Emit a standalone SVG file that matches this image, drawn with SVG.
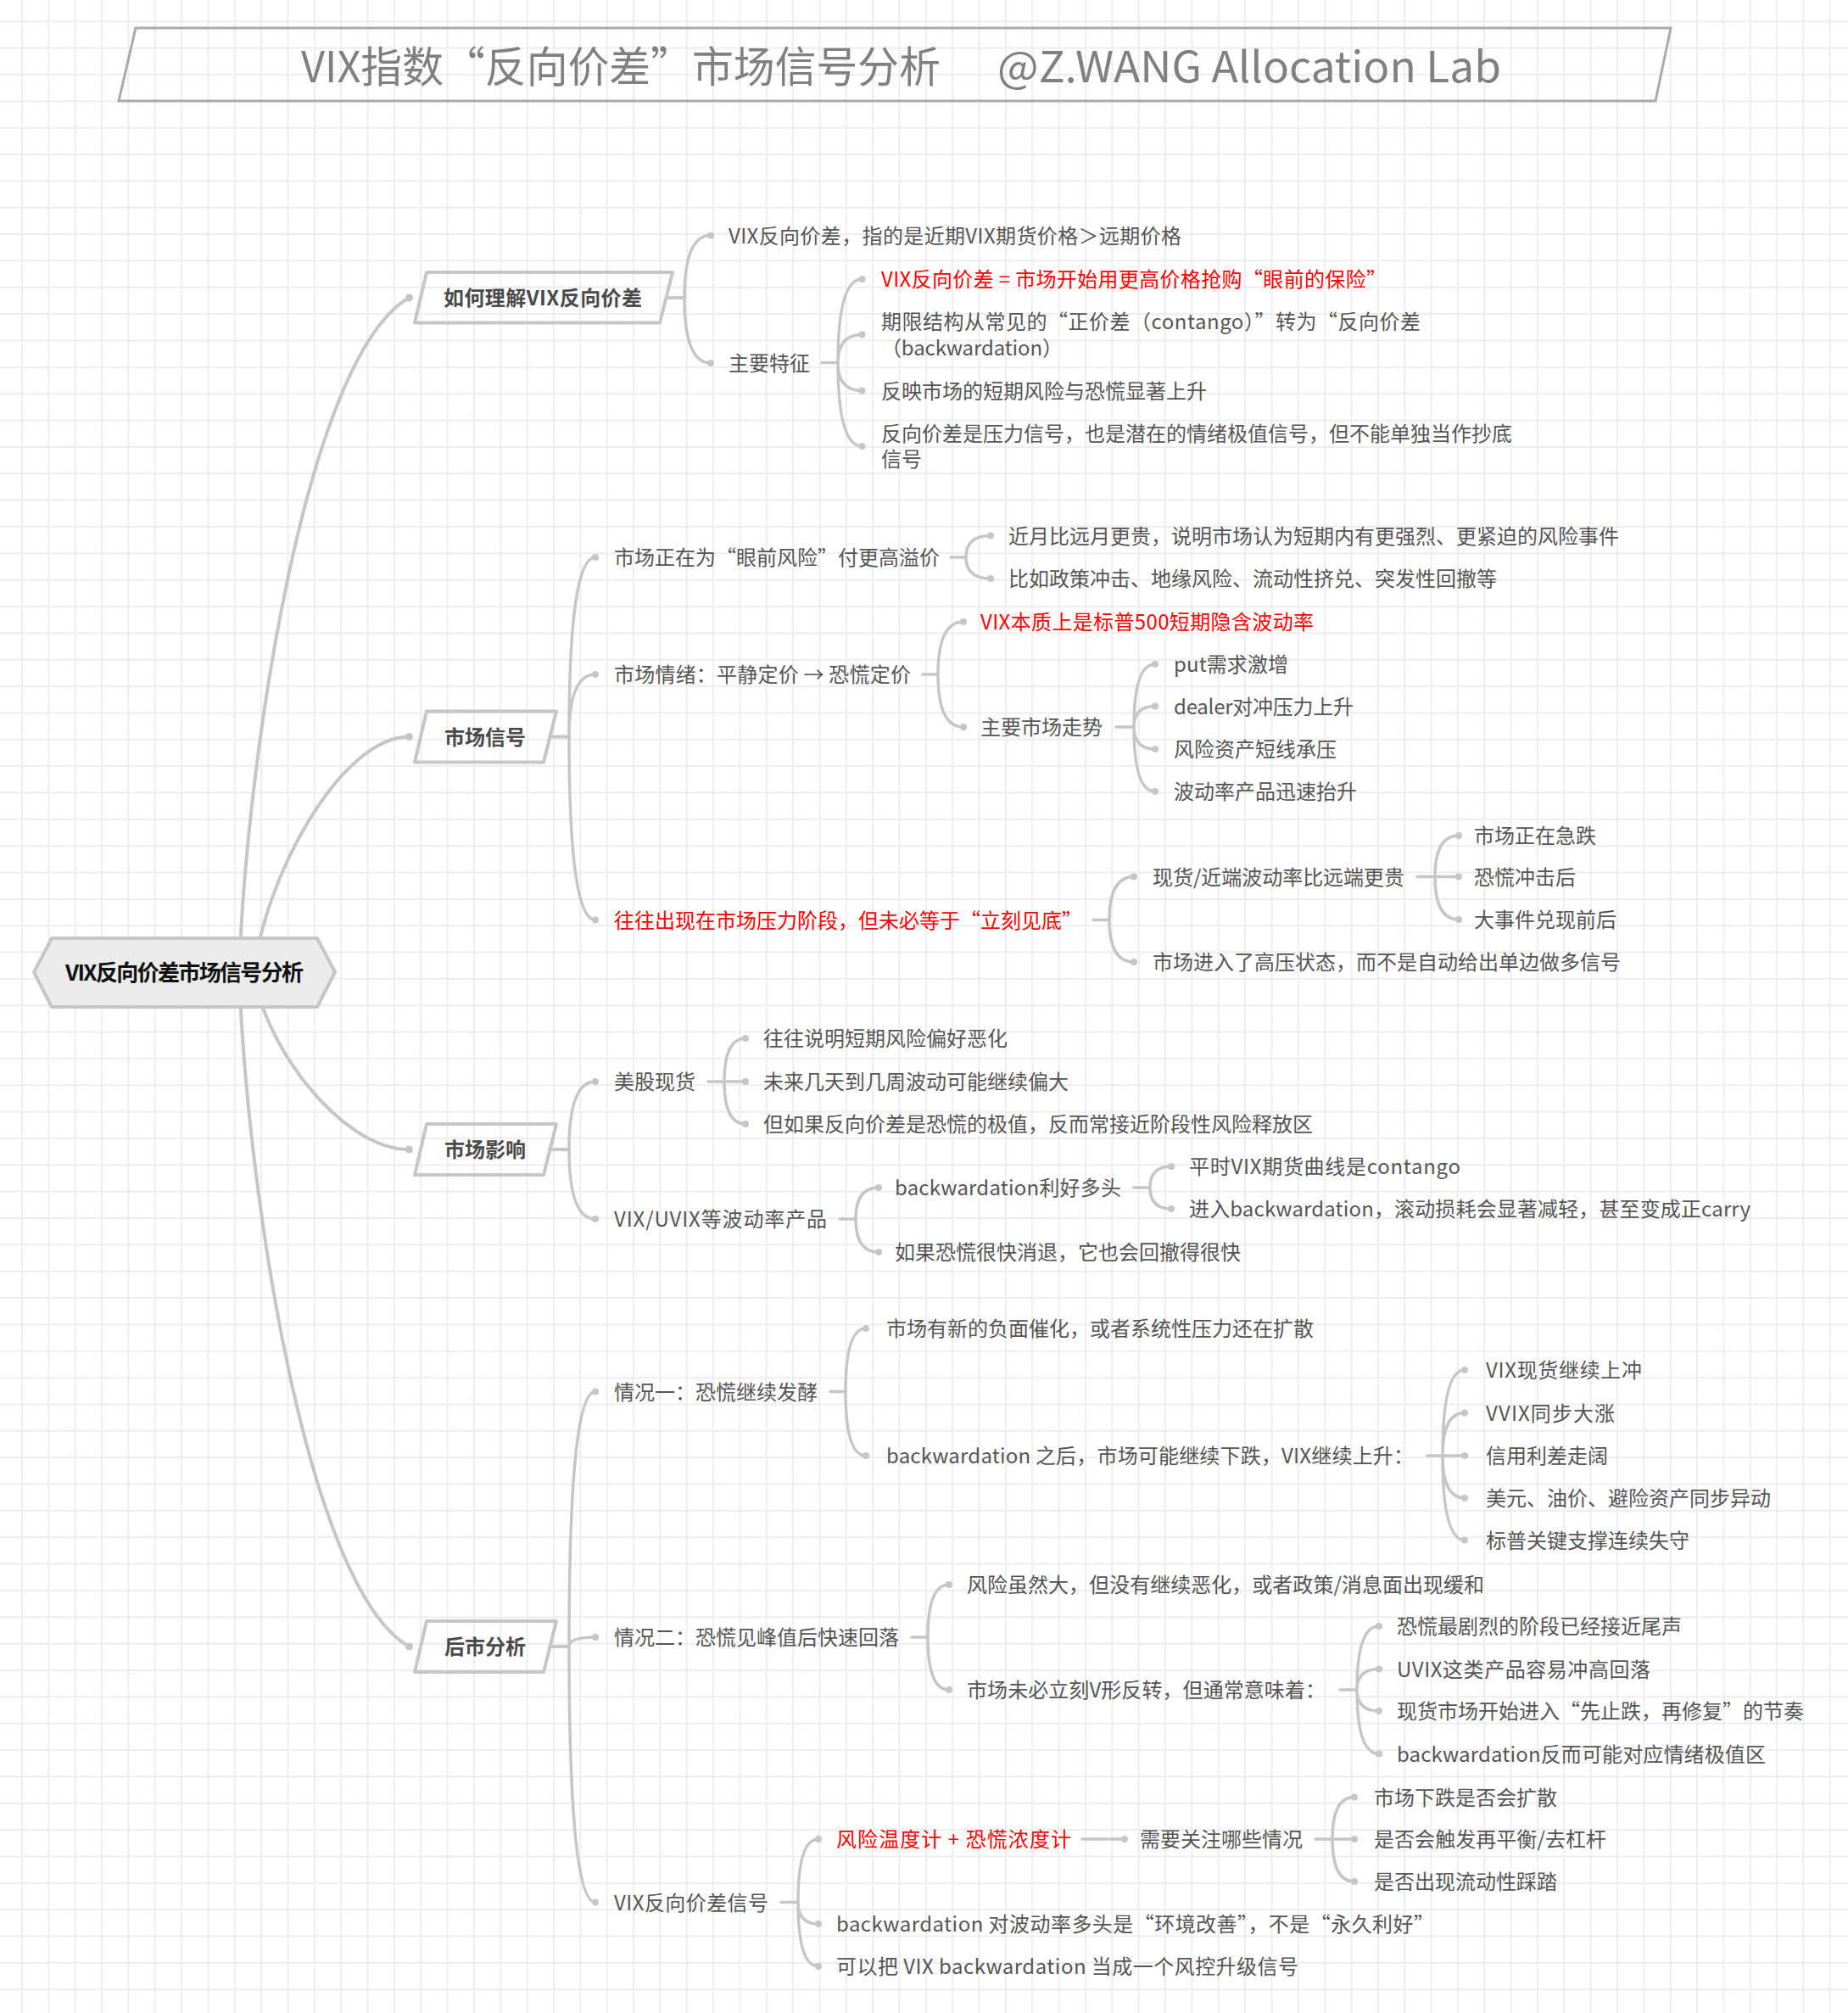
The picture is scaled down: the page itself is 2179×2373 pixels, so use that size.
<svg xmlns="http://www.w3.org/2000/svg" width="2179" height="2373" viewBox="0 0 2179 2373">
<defs>
<pattern id="grid" x="10.3" y="9.6" width="31.35" height="31.35" patternUnits="userSpaceOnUse">
<path d="M15.675 0V31.35M0 15.675H31.35" stroke="#ededed" stroke-width="2" fill="none"/>
</pattern>
<style>
.t{font-family:"Noto Sans CJK SC","Noto Sans",sans-serif;font-size:24px;fill:#555555;}
.r{fill:#ff0000;}
.b1{font-weight:700;fill:#4a4a4a;}
.ln{fill:none;stroke:#c6c6c6;stroke-width:3.5;stroke-linecap:round;}
.ln0{stroke-width:4;}
.dot{fill:#c6c6c6;}
.box{fill:none;stroke:#c6c6c6;stroke-width:4;stroke-linejoin:round;}
</style>
</defs>
<rect width="2179" height="2373" fill="#ffffff"/>
<rect width="2179" height="2373" fill="url(#grid)"/>

<g id="title">
<path d="M160 33 L1970 33 L1952 119 L140 119 Z" fill="none" stroke="#aaaaaa" stroke-width="3"/>
<text class="t" x="355" y="97" style="font-size:50px;fill:#808080" textLength="754" lengthAdjust="spacingAndGlyphs">VIX指数“反向价差”市场信号分析</text>
<text class="t" x="1176" y="97" style="font-size:50px;fill:#808080" textLength="594" lengthAdjust="spacingAndGlyphs">@Z.WANG Allocation Lab</text>
</g>

<g id="connectors">
<path class="ln ln0" d="M282 1146 C290 900 360 420 482.5 351"/>
<path class="ln ln0" d="M300 1146 C310 1040 400 868.5 482.5 868.5"/>
<path class="ln ln0" d="M300 1146 C308 1226 400 1355 482.5 1355"/>
<path class="ln ln0" d="M282 1146 C290 1392 360 1872 482.5 1941"/>
<circle class="dot" cx="482.5" cy="351" r="4.5"/>
<circle class="dot" cx="482.5" cy="868.5" r="4.5"/>
<circle class="dot" cx="482.5" cy="1355" r="4.5"/>
<circle class="dot" cx="482.5" cy="1941" r="4.5"/>
<path class="ln ln0" d="M786 351H807M648 868.5H671M648 1355H671M648 1941H671"/>

<path class="ln" d="M807 351Q807 277.5 838 277.5M807 351Q807 428 838 428"/>
<path class="ln" d="M969 427.5H988M988 427.5Q988 329 1016.5 329M988 427.5Q988 394.5 1016.5 394.5M988 427.5Q988 460.5 1016.5 460.5M988 427.5Q988 526 1016.5 526"/>

<path class="ln" d="M671 868.5Q671 657 702 657M671 868.5Q671 795 702 795M671 868.5Q671 1084.5 702 1084.5"/>
<path class="ln" d="M1121 657H1139M1139 657Q1139 631.5 1168 631.5M1139 657Q1139 682 1168 682"/>
<path class="ln" d="M1088 795H1106M1106 795Q1106 733 1136 733M1106 795Q1106 857 1136 857"/>
<path class="ln" d="M1316 857H1337M1337 857Q1337 783 1362 783M1337 857Q1337 832.5 1362 832.5M1337 857Q1337 883 1362 883M1337 857Q1337 933 1362 933"/>
<path class="ln" d="M1289 1084.5H1308M1308 1084.5Q1308 1033.5 1337 1033.5M1308 1084.5Q1308 1134 1337 1134"/>
<path class="ln" d="M1671 1033.5H1692M1692 1033.5Q1692 985 1720 985M1692 1033.5H1720M1692 1033.5Q1692 1084 1720 1084"/>

<path class="ln" d="M671 1355Q671 1275 702 1275M671 1355Q671 1437 702 1437"/>
<path class="ln" d="M835 1275H854M854 1275Q854 1224 879 1224M854 1275H879M854 1275Q854 1325 879 1325"/>
<path class="ln" d="M990 1437H1009M1009 1437Q1009 1400 1036 1400M1009 1437Q1009 1476 1036 1476"/>
<path class="ln" d="M1337 1400H1356M1356 1400Q1356 1375 1381 1375M1356 1400Q1356 1425 1381 1425"/>

<path class="ln" d="M671 1941Q671 1640.5 702 1640.5M671 1941Q671 1930 702 1930M671 1941Q671 2242.5 702 2242.5"/>
<path class="ln" d="M979 1640.5H997M997 1640.5Q997 1566 1021 1566M997 1640.5Q997 1716 1021 1716"/>
<path class="ln" d="M1683 1716H1701M1701 1716Q1701 1615 1727 1615M1701 1716Q1701 1665.5 1727 1665.5M1701 1716H1727M1701 1716Q1701 1766 1727 1766M1701 1716Q1701 1815.5 1727 1815.5"/>
<path class="ln" d="M1075 1930H1094M1094 1930Q1094 1868 1119 1868M1094 1930Q1094 1992 1119 1992"/>
<path class="ln" d="M1580 1992H1600M1600 1992Q1600 1917 1626 1917M1600 1992Q1600 1967.5 1626 1967.5M1600 1992Q1600 2017 1626 2017M1600 1992Q1600 2067.5 1626 2067.5"/>
<path class="ln" d="M921 2242.5H941M941 2242.5Q941 2168 965 2168M941 2242.5Q941 2268 965 2268M941 2242.5Q941 2318 965 2318"/>
<path class="ln" d="M1276 2168H1326"/>
<path class="ln" d="M1551 2168H1571M1571 2168Q1571 2118.5 1597 2118.5M1571 2168H1597M1571 2168Q1571 2218 1597 2218"/>

<g class="dot">
<circle cx="838" cy="277.5" r="4"/><circle cx="838" cy="428" r="4"/>
<circle cx="1016.5" cy="329" r="4"/><circle cx="1016.5" cy="394.5" r="4"/><circle cx="1016.5" cy="460.5" r="4"/><circle cx="1016.5" cy="526" r="4"/>
<circle cx="702" cy="657" r="4"/><circle cx="702" cy="795" r="4"/><circle cx="702" cy="1084.5" r="4"/>
<circle cx="1168" cy="631.5" r="4"/><circle cx="1168" cy="682" r="4"/>
<circle cx="1136" cy="733" r="4"/><circle cx="1136" cy="857" r="4"/>
<circle cx="1362" cy="783" r="4"/><circle cx="1362" cy="832.5" r="4"/><circle cx="1362" cy="883" r="4"/><circle cx="1362" cy="933" r="4"/>
<circle cx="1337" cy="1033.5" r="4"/><circle cx="1337" cy="1134" r="4"/>
<circle cx="1720" cy="985" r="4"/><circle cx="1720" cy="1033.5" r="4"/><circle cx="1720" cy="1084" r="4"/>
<circle cx="702" cy="1275" r="4"/><circle cx="702" cy="1437" r="4"/>
<circle cx="879" cy="1224" r="4"/><circle cx="879" cy="1275" r="4"/><circle cx="879" cy="1325" r="4"/>
<circle cx="1036" cy="1400" r="4"/><circle cx="1036" cy="1476" r="4"/>
<circle cx="1381" cy="1375" r="4"/><circle cx="1381" cy="1425" r="4"/>
<circle cx="702" cy="1640.5" r="4"/><circle cx="702" cy="1930" r="4"/><circle cx="702" cy="2242.5" r="4"/>
<circle cx="1021" cy="1566" r="4"/><circle cx="1021" cy="1716" r="4"/>
<circle cx="1727" cy="1615" r="4"/><circle cx="1727" cy="1665.5" r="4"/><circle cx="1727" cy="1716" r="4"/><circle cx="1727" cy="1766" r="4"/><circle cx="1727" cy="1815.5" r="4"/>
<circle cx="1119" cy="1868" r="4"/><circle cx="1119" cy="1992" r="4"/>
<circle cx="1626" cy="1917" r="4"/><circle cx="1626" cy="1967.5" r="4"/><circle cx="1626" cy="2017" r="4"/><circle cx="1626" cy="2067.5" r="4"/>
<circle cx="965" cy="2168" r="4"/><circle cx="965" cy="2268" r="4"/><circle cx="965" cy="2318" r="4"/>
<circle cx="1326" cy="2168" r="4"/>
<circle cx="1597" cy="2118.5" r="4"/><circle cx="1597" cy="2168" r="4"/><circle cx="1597" cy="2218" r="4"/>
</g>
</g>

<g id="root">
<polygon points="40,1146 61,1106 374,1106 395,1146 374,1187 61,1187" fill="#ebebeb" stroke="#c6c6c6" stroke-width="4" stroke-linejoin="round"/>
<text class="t" x="217.5" y="1155.5" text-anchor="middle" style="font-size:26px;font-weight:700;fill:#111111" textLength="281" lengthAdjust="spacing">VIX反向价差市场信号分析</text>
</g>

<g id="l1-understand">
<polygon class="box" points="503,321 793,321 778,380.5 489,380.5"/>
<text class="t b1" x="640" y="359.5" text-anchor="middle" textLength="234" lengthAdjust="spacing">如何理解VIX反向价差</text>
</g>
<g id="l1-signal">
<polygon class="box" points="503,838.5 656,838.5 641,898.5 489,898.5"/>
<text class="t b1" x="572" y="877.5" text-anchor="middle">市场信号</text>
</g>
<g id="l1-impact">
<polygon class="box" points="503,1325 656,1325 641,1385 489,1385"/>
<text class="t b1" x="572" y="1364" text-anchor="middle">市场影响</text>
</g>
<g id="l1-outlook">
<polygon class="box" points="503,1911 656,1911 641,1971 489,1971"/>
<text class="t b1" x="572" y="1950" text-anchor="middle">后市分析</text>
</g>

<g id="n1a"><text class="t" x="859" y="286.5" textLength="534" lengthAdjust="spacing">VIX反向价差，指的是近期VIX期货价格＞远期价格</text></g>
<g id="n1b"><text class="t" x="859" y="437" textLength="96" lengthAdjust="spacing">主要特征</text></g>
<g id="n1b1"><text class="t r" x="1039" y="338" textLength="596" lengthAdjust="spacing">VIX反向价差 = 市场开始用更高价格抢购“眼前的保险”</text></g>
<g id="n1b2"><text class="t" x="1039" y="388"><tspan x="1039" y="388" textLength="636" lengthAdjust="spacing">期限结构从常见的“正价差（contango）”转为“反向价差</tspan><tspan x="1039" y="418.5" textLength="214" lengthAdjust="spacing">（backwardation）</tspan></text></g>
<g id="n1b3"><text class="t" x="1039" y="469.5" textLength="384" lengthAdjust="spacing">反映市场的短期风险与恐慌显著上升</text></g>
<g id="n1b4"><text class="t" x="1039" y="520"><tspan x="1039" y="520" textLength="744" lengthAdjust="spacing">反向价差是压力信号，也是潜在的情绪极值信号，但不能单独当作抄底</tspan><tspan x="1039" y="550">信号</tspan></text></g>

<g id="n2a"><text class="t" x="724" y="666" textLength="384" lengthAdjust="spacing">市场正在为“眼前风险”付更高溢价</text></g>
<g id="n2a1"><text class="t" x="1189" y="640.5" textLength="720" lengthAdjust="spacing">近月比远月更贵，说明市场认为短期内有更强烈、更紧迫的风险事件</text></g>
<g id="n2a2"><text class="t" x="1189" y="691" textLength="576" lengthAdjust="spacing">比如政策冲击、地缘风险、流动性挤兑、突发性回撤等</text></g>
<g id="n2b"><text class="t" x="724" y="804" textLength="350" lengthAdjust="spacing">市场情绪：平静定价 → 恐慌定价</text></g>
<g id="n2b1"><text class="t r" x="1156" y="742" textLength="393" lengthAdjust="spacing">VIX本质上是标普500短期隐含波动率</text></g>
<g id="n2b2"><text class="t" x="1156" y="866" textLength="144" lengthAdjust="spacing">主要市场走势</text></g>
<g id="n2b2a"><text class="t" x="1384" y="792" textLength="135" lengthAdjust="spacing">put需求激增</text></g>
<g id="n2b2b"><text class="t" x="1384" y="841.5" textLength="212" lengthAdjust="spacing">dealer对冲压力上升</text></g>
<g id="n2b2c"><text class="t" x="1384" y="892" textLength="192" lengthAdjust="spacing">风险资产短线承压</text></g>
<g id="n2b2d"><text class="t" x="1384" y="942" textLength="216" lengthAdjust="spacing">波动率产品迅速抬升</text></g>
<g id="n2c"><text class="t r" x="724" y="1093.5" textLength="552" lengthAdjust="spacing">往往出现在市场压力阶段，但未必等于“立刻见底”</text></g>
<g id="n2c1"><text class="t" x="1359" y="1042.5" textLength="297" lengthAdjust="spacing">现货/近端波动率比远端更贵</text></g>
<g id="n2c1a"><text class="t" x="1738" y="994" textLength="144" lengthAdjust="spacing">市场正在急跌</text></g>
<g id="n2c1b"><text class="t" x="1738" y="1042.5" textLength="120" lengthAdjust="spacing">恐慌冲击后</text></g>
<g id="n2c1c"><text class="t" x="1738" y="1093" textLength="168" lengthAdjust="spacing">大事件兑现前后</text></g>
<g id="n2c2"><text class="t" x="1359" y="1143" textLength="552" lengthAdjust="spacing">市场进入了高压状态，而不是自动给出单边做多信号</text></g>

<g id="n3a"><text class="t" x="724" y="1284" textLength="96" lengthAdjust="spacing">美股现货</text></g>
<g id="n3a1"><text class="t" x="900" y="1233" textLength="288" lengthAdjust="spacing">往往说明短期风险偏好恶化</text></g>
<g id="n3a2"><text class="t" x="900" y="1284" textLength="360" lengthAdjust="spacing">未来几天到几周波动可能继续偏大</text></g>
<g id="n3a3"><text class="t" x="900" y="1334" textLength="648" lengthAdjust="spacing">但如果反向价差是恐慌的极值，反而常接近阶段性风险释放区</text></g>
<g id="n3b"><text class="t" x="724" y="1446" textLength="251" lengthAdjust="spacing">VIX/UVIX等波动率产品</text></g>
<g id="n3b1"><text class="t" x="1055" y="1409" textLength="267" lengthAdjust="spacing">backwardation利好多头</text></g>
<g id="n3b1a"><text class="t" x="1402" y="1384" textLength="320" lengthAdjust="spacing">平时VIX期货曲线是contango</text></g>
<g id="n3b1b"><text class="t" x="1402" y="1434" textLength="662" lengthAdjust="spacing">进入backwardation，滚动损耗会显著减轻，甚至变成正carry</text></g>
<g id="n3b2"><text class="t" x="1055" y="1485" textLength="408" lengthAdjust="spacing">如果恐慌很快消退，它也会回撤得很快</text></g>

<g id="n4a"><text class="t" x="724" y="1649.5" textLength="240" lengthAdjust="spacing">情况一：恐慌继续发酵</text></g>
<g id="n4a1"><text class="t" x="1045" y="1575" textLength="504" lengthAdjust="spacing">市场有新的负面催化，或者系统性压力还在扩散</text></g>
<g id="n4a2"><text class="t" x="1045" y="1725" textLength="622" lengthAdjust="spacing">backwardation 之后，市场可能继续下跌，VIX继续上升：</text></g>
<g id="n4a2a"><text class="t" x="1752" y="1624" textLength="184" lengthAdjust="spacing">VIX现货继续上冲</text></g>
<g id="n4a2b"><text class="t" x="1752" y="1674.5" textLength="152" lengthAdjust="spacing">VVIX同步大涨</text></g>
<g id="n4a2c"><text class="t" x="1752" y="1725" textLength="144" lengthAdjust="spacing">信用利差走阔</text></g>
<g id="n4a2d"><text class="t" x="1752" y="1775" textLength="336" lengthAdjust="spacing">美元、油价、避险资产同步异动</text></g>
<g id="n4a2e"><text class="t" x="1752" y="1824.5" textLength="240" lengthAdjust="spacing">标普关键支撑连续失守</text></g>
<g id="n4b"><text class="t" x="724" y="1939" textLength="336" lengthAdjust="spacing">情况二：恐慌见峰值后快速回落</text></g>
<g id="n4b1"><text class="t" x="1140" y="1877" textLength="610" lengthAdjust="spacing">风险虽然大，但没有继续恶化，或者政策/消息面出现缓和</text></g>
<g id="n4b2"><text class="t" x="1140" y="2001" textLength="423" lengthAdjust="spacing">市场未必立刻V形反转，但通常意味着：</text></g>
<g id="n4b2a"><text class="t" x="1647" y="1926" textLength="336" lengthAdjust="spacing">恐慌最剧烈的阶段已经接近尾声</text></g>
<g id="n4b2b"><text class="t" x="1647" y="1976.5" textLength="299" lengthAdjust="spacing">UVIX这类产品容易冲高回落</text></g>
<g id="n4b2c"><text class="t" x="1647" y="2026" textLength="480" lengthAdjust="spacing">现货市场开始进入“先止跌，再修复”的节奏</text></g>
<g id="n4b2d"><text class="t" x="1647" y="2076.5" textLength="435" lengthAdjust="spacing">backwardation反而可能对应情绪极值区</text></g>
<g id="n4c"><text class="t" x="724" y="2251.5" textLength="182" lengthAdjust="spacing">VIX反向价差信号</text></g>
<g id="n4c1"><text class="t r" x="986" y="2177" textLength="277" lengthAdjust="spacing">风险温度计 + 恐慌浓度计</text></g>
<g id="n4c1a"><text class="t" x="1344" y="2177" textLength="192" lengthAdjust="spacing">需要关注哪些情况</text></g>
<g id="n4c1a1"><text class="t" x="1620" y="2127.5" textLength="216" lengthAdjust="spacing">市场下跌是否会扩散</text></g>
<g id="n4c1a2"><text class="t" x="1620" y="2177" textLength="274" lengthAdjust="spacing">是否会触发再平衡/去杠杆</text></g>
<g id="n4c1a3"><text class="t" x="1620" y="2227" textLength="216" lengthAdjust="spacing">是否出现流动性踩踏</text></g>
<g id="n4c2"><text class="t" x="986" y="2277" textLength="705" lengthAdjust="spacing">backwardation 对波动率多头是“环境改善”，不是“永久利好”</text></g>
<g id="n4c3"><text class="t" x="986" y="2327" textLength="545" lengthAdjust="spacing">可以把 VIX backwardation 当成一个风控升级信号</text></g>
</svg>
